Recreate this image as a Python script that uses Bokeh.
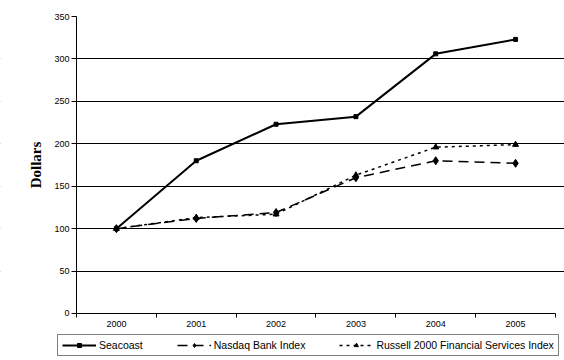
from bokeh.plotting import figure
from bokeh.models import FixedTicker, Legend, LegendItem, Range1d, BoxAnnotation
from bokeh.embed import file_html
from bokeh.resources import INLINE

years = [2000, 2001, 2002, 2003, 2004, 2005]
year_labels = ["2000", "2001", "2002", "2003", "2004", "2005"]
seacoast = [100, 180, 223, 232, 306, 323]
nasdaq_bank = [100, 112, 119, 160, 180, 177]
russell_fin = [100, 113, 117, 163, 196, 199]
y_ticks = [0, 50, 100, 150, 200, 250, 300, 350]
series_names = ["Seacoast", "Nasdaq Bank Index", "Russell 2000 Financial Services Index"]

# frame covers the whole canvas; axes are pinned at x=1999.5 / y=0
p = figure(width=564, height=360, output_backend="svg", toolbar_location=None,
           x_range=Range1d(1998.548, 2005.613), y_range=Range1d(-55.39, 368.86),
           min_border=0)
p.outline_line_color = None
p.background_fill_color = "white"
p.border_fill_color = "white"

# x axis
p.xaxis.fixed_location = 0
p.xaxis.bounds = (1999.5, 2005.5)
p.xaxis.ticker = FixedTicker(ticks=years, minor_ticks=[1999.5 + i for i in range(7)])
p.xaxis.major_label_overrides = {y: l for y, l in zip(years, year_labels)}
p.xaxis.major_tick_line_color = None
p.xaxis.major_tick_out = 4
p.xaxis.major_tick_in = 0
p.xaxis.minor_tick_line_color = "black"
p.xaxis.minor_tick_out = 4
p.xaxis.minor_tick_in = 0
p.xaxis.major_label_standoff = 4
p.xaxis.major_label_text_font = "Liberation Sans"
p.xaxis.major_label_text_font_size = "9px"
p.xaxis.major_label_text_color = "black"
p.xaxis.axis_line_color = "black"

# y axis
p.yaxis.fixed_location = 1999.5
p.yaxis.bounds = (0, 350)
p.yaxis.ticker = FixedTicker(ticks=y_ticks)
p.yaxis.minor_tick_line_color = None
p.yaxis.major_tick_out = 5
p.yaxis.major_tick_in = 0
p.yaxis.major_label_standoff = 2
p.yaxis.major_label_text_font = "Liberation Sans"
p.yaxis.major_label_text_font_size = "9px"
p.yaxis.major_label_text_color = "black"
p.yaxis.axis_line_color = "black"
p.yaxis.axis_label = "Dollars"
p.yaxis.axis_label_text_font = "Liberation Serif"
p.yaxis.axis_label_text_font_style = "bold"
p.yaxis.axis_label_text_font_size = "15px"
p.yaxis.axis_label_text_color = "black"
p.yaxis.axis_label_standoff = 7

p.xgrid.grid_line_color = None
p.ygrid.ticker = FixedTicker(ticks=[50, 100, 150, 200, 250, 300])
p.ygrid.grid_line_color = "black"
p.ygrid.grid_line_width = 1

# mask grid lines left of the y axis
p.add_layout(BoxAnnotation(left=1998.0, right=1999.5, fill_color="white", fill_alpha=1,
                           line_color=None, level="underlay"))

# series
l1 = p.line(years, seacoast, line_color="black", line_width=2)
m1 = p.scatter(years, seacoast, marker="square", size=4, color="black")
l2 = p.line(years, nasdaq_bank, line_color="black", line_width=1.5, line_dash="10 6")
m2 = p.scatter(years, nasdaq_bank, marker="diamond", size=8, color="black")
l3 = p.line(years, russell_fin, line_color="black", line_width=1.5, line_dash="3 4")
m3 = p.scatter(years, russell_fin, marker="triangle", size=6, color="black")

legend = Legend(items=[
    LegendItem(label=series_names[0], renderers=[l1, m1]),
    LegendItem(label=series_names[1], renderers=[l2, m2]),
    LegendItem(label=series_names[2], renderers=[l3, m3]),
], orientation="horizontal", location=(57, 4))
legend.border_line_color = "black"
legend.border_line_width = 1
legend.background_fill_color = "white"
legend.background_fill_alpha = 1
legend.label_text_font = "Liberation Sans"
legend.label_text_font_size = "10.5px"
legend.label_text_color = "black"
legend.glyph_width = 34
legend.glyph_height = 10
legend.label_height = 10
legend.label_standoff = 3
legend.spacing = 34
legend.padding = 4
legend.margin = 0
p.add_layout(legend, "center")

open("out.html", "w").write(file_html(p, INLINE))
